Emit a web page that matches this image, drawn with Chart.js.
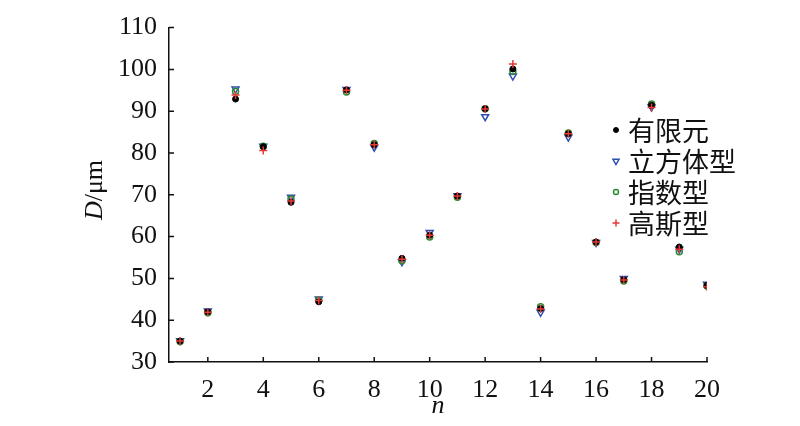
<!DOCTYPE html>
<html>
<head>
<meta charset="utf-8">
<script src="https://cdn.jsdelivr.net/npm/chart.js@4/dist/chart.umd.min.js"></script>
<style>
  body { margin: 0; background: #fff; }
  #wrap { width: 800px; height: 426px; }
</style>
</head>
<body>
<div id="wrap"><canvas id="chart" width="800" height="426"></canvas></div>
<script>
// sample index
const nValues = [1, 2, 3, 4, 5, 6, 7, 8, 9, 10, 11, 12, 13, 14, 15, 16, 17, 18, 19, 20];
// D / um for each method
const femValues   = [35.0, 42.0, 92.9, 81.5, 68.2, 44.4, 95.1, 82.0, 54.8, 60.3, 69.7, 90.6, 100.1, 42.8, 84.6, 58.7, 49.7, 91.4, 57.5, 48.3];
const cubeValues  = [35.1, 42.2, 95.3, 81.6, 69.4, 45.1, 95.2, 81.4, 54.0, 61.0, 69.8, 88.7, 98.4, 41.9, 83.8, 58.6, 50.0, 91.0, 57.0, 48.6];
const expValues   = [34.9, 41.8, 94.7, 81.6, 69.0, 44.8, 94.6, 82.3, 54.2, 59.9, 69.4, 90.6, 99.5, 43.2, 84.8, 58.6, 49.4, 91.7, 56.4, 48.2];
const gaussValues = [35.0, 41.9, 93.9, 80.6, 68.5, 44.7, 95.0, 82.0, 54.6, 60.3, 69.7, 90.5, 101.3, 42.7, 84.6, 58.7, 49.6, 90.9, 57.0, 48.0];

const seriesNames = ['有限元', '立方体型', '指数型', '高斯型'];
const xTicks = [2, 4, 6, 8, 10, 12, 14, 16, 18, 20];
const yTicks = [30, 40, 50, 60, 70, 80, 90, 100, 110];

const numFont = { family: 'Liberation Serif', size: 26 };

function toPoints(vals) {
    return vals.map((v, i) => ({ x: nValues[i], y: v }));
}

// inward ticks, axis titles and the legend inside the plot
const extras = {
    id: 'extras',
    afterDraw(chart) {
        const ctx = chart.ctx;
        const xs = chart.scales.x, ys = chart.scales.y;
        const area = chart.chartArea;
        ctx.save();
        ctx.strokeStyle = '#111';
        ctx.lineWidth = 1.5;
        ctx.beginPath();
        xTicks.forEach(v => {
            const px = xs.getPixelForValue(v);
            ctx.moveTo(px, area.bottom);
            ctx.lineTo(px, area.bottom - 5);
        });
        yTicks.forEach(v => {
            const py = ys.getPixelForValue(v);
            ctx.moveTo(area.left, py);
            ctx.lineTo(area.left + 5, py);
        });
        ctx.stroke();

        // y title: D/μm, rotated
        ctx.fillStyle = '#111';
        ctx.textBaseline = 'middle';
        ctx.translate(95, 190);
        ctx.rotate(-Math.PI / 2);
        ctx.font = 'italic 26px "Liberation Serif"';
        const wD = ctx.measureText('D').width;
        ctx.font = '26px "Liberation Serif"';
        const wRest = ctx.measureText('/μm').width;
        const start = -(wD + wRest) / 2;
        ctx.textAlign = 'left';
        ctx.font = 'italic 26px "Liberation Serif"';
        ctx.fillText('D', start, 0);
        ctx.font = '26px "Liberation Serif"';
        ctx.fillText('/μm', start + wD, 0);
        ctx.setTransform(1, 0, 0, 1, 0, 0);

        // x title
        ctx.font = 'italic 26px "Liberation Serif"';
        ctx.textAlign = 'center';
        ctx.fillText('n', (area.left + area.right) / 2, 406);

        // legend
        const rowY = [130, 161, 192, 223];
        ctx.font = '27px "Noto Sans CJK SC", sans-serif';
        ctx.textAlign = 'left';
        chart.data.datasets.forEach((ds, i) => {
            const y = rowY[i];
            ctx.save();
            ctx.lineWidth = ds.borderWidth;
            ctx.strokeStyle = ds.borderColor;
            ctx.fillStyle = ds.backgroundColor;
            Chart.helpers.drawPoint(ctx, {
                pointStyle: ds.pointStyle,
                rotation: ds.rotation || 0,
                radius: ds.pointRadius - 0.5,
                borderWidth: ds.borderWidth
            }, 616, y);
            ctx.restore();
            ctx.fillStyle = '#111';
            ctx.fillText(ds.label, 628, y + 1);
        });
        ctx.restore();
    }
};

const ctx = document.getElementById('chart').getContext('2d');
const chart = new Chart(ctx, {
    type: 'scatter',
    data: {
        datasets: [
            {
                label: seriesNames[0], data: toPoints(femValues),
                pointStyle: 'circle', pointRadius: 3, borderWidth: 1,
                borderColor: '#000', backgroundColor: '#000', order: 1
            },
            {
                label: seriesNames[1], data: toPoints(cubeValues),
                pointStyle: 'triangle', rotation: 180, pointRotation: 180, pointRadius: 4, borderWidth: 1.5,
                borderColor: '#2f4fae', backgroundColor: 'rgba(255,255,255,0)', order: 3
            },
            {
                label: seriesNames[2], data: toPoints(expValues),
                pointStyle: 'circle', pointRadius: 3, borderWidth: 1.5,
                borderColor: '#2d8a34', backgroundColor: 'rgba(255,255,255,0)', order: 2
            },
            {
                label: seriesNames[3], data: toPoints(gaussValues),
                pointStyle: 'cross', pointRadius: 4, borderWidth: 1.5,
                borderColor: '#e53935', backgroundColor: '#e53935', order: 0
            }
        ]
    },
    options: {
        responsive: false,
        animation: false,
        layout: { padding: { top: 17, right: 93, bottom: 0, left: 0 } },
        plugins: { legend: { display: false }, tooltip: { enabled: false } },
        scales: {
            x: {
                type: 'linear',
                min: 0.6,
                max: 20,
                afterBuildTicks: s => { s.ticks = xTicks.map(v => ({ value: v })); },
                afterFit: s => { s.height = 64; },
                grid: { display: false, drawTicks: false },
                border: { display: true, color: '#111', width: 1.5 },
                ticks: { font: numFont, color: '#111', padding: 13, maxRotation: 0, autoSkip: false }
            },
            y: {
                min: 30,
                max: 110,
                afterBuildTicks: s => { s.ticks = yTicks.map(v => ({ value: v })); },
                afterFit: s => { s.width = 169; },
                grid: { display: false, drawTicks: false },
                border: { display: true, color: '#111', width: 1.5 },
                ticks: { font: numFont, color: '#111', padding: 12 }
            }
        }
    },
    plugins: [extras]
});
</script>
</body>
</html>
